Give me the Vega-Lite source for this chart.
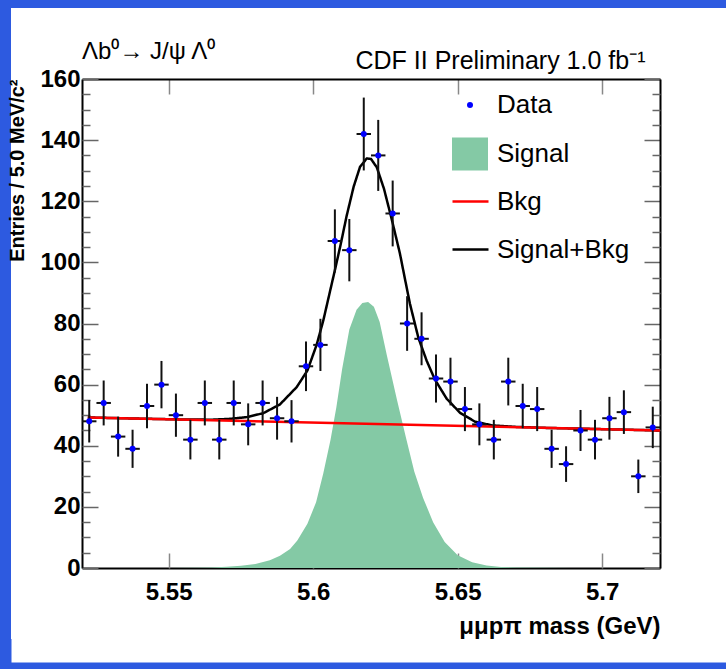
{
  "$schema": "https://vega.github.io/schema/vega-lite/v6.json",
  "width": 578,
  "height": 489,
  "autosize": {"type": "none"},
  "padding": {"left": 82, "top": 79, "right": 66, "bottom": 101},
  "background": "#2d5ae0",
  "config": {
    "view": {"fill": "white", "stroke": "white", "strokeWidth": 142},
    "axis": {"grid": false, "labelFont": "Liberation Sans", "titleFont": "Liberation Sans", "labelColor": "black", "titleColor": "black", "labelFlush": false, "labelOverlap": false, "labelBound": false},
    "legend": {"title": null, "labelFont": "Liberation Sans", "labelFontSize": 26, "labelColor": "black", "padding": 0, "labelLimit": 300, "orient": "none", "symbolOpacity": 1},
    "font": "Liberation Sans"
  },
  "title": {"text": "Λb⁰→ J/ψ Λ⁰", "anchor": "start", "frame": "group", "fontSize": 24, "fontWeight": "normal", "font": "Liberation Sans", "offset": -16, "color": "black"},
  "datasets": {
    "bins": [
      {"m": 5.5225, "n": 48, "lo": 41.07, "hi": 54.93, "xlo": 5.520, "xhi": 5.525},
      {"m": 5.5275, "n": 54, "lo": 46.65, "hi": 61.35, "xlo": 5.525, "xhi": 5.530},
      {"m": 5.5325, "n": 43, "lo": 36.44, "hi": 49.56, "xlo": 5.530, "xhi": 5.535},
      {"m": 5.5375, "n": 39, "lo": 32.76, "hi": 45.24, "xlo": 5.535, "xhi": 5.540},
      {"m": 5.5425, "n": 53, "lo": 45.72, "hi": 60.28, "xlo": 5.540, "xhi": 5.545},
      {"m": 5.5475, "n": 60, "lo": 52.25, "hi": 67.75, "xlo": 5.545, "xhi": 5.550},
      {"m": 5.5525, "n": 50, "lo": 42.93, "hi": 57.07, "xlo": 5.550, "xhi": 5.555},
      {"m": 5.5575, "n": 42, "lo": 35.52, "hi": 48.48, "xlo": 5.555, "xhi": 5.560},
      {"m": 5.5625, "n": 54, "lo": 46.65, "hi": 61.35, "xlo": 5.560, "xhi": 5.565},
      {"m": 5.5675, "n": 42, "lo": 35.52, "hi": 48.48, "xlo": 5.565, "xhi": 5.570},
      {"m": 5.5725, "n": 54, "lo": 46.65, "hi": 61.35, "xlo": 5.570, "xhi": 5.575},
      {"m": 5.5775, "n": 47, "lo": 40.14, "hi": 53.86, "xlo": 5.575, "xhi": 5.580},
      {"m": 5.5825, "n": 54, "lo": 46.65, "hi": 61.35, "xlo": 5.580, "xhi": 5.585},
      {"m": 5.5875, "n": 49, "lo": 42.00, "hi": 56.00, "xlo": 5.585, "xhi": 5.590},
      {"m": 5.5925, "n": 48, "lo": 41.07, "hi": 54.93, "xlo": 5.590, "xhi": 5.595},
      {"m": 5.5975, "n": 66, "lo": 57.88, "hi": 74.12, "xlo": 5.595, "xhi": 5.600},
      {"m": 5.6025, "n": 73, "lo": 64.46, "hi": 81.54, "xlo": 5.600, "xhi": 5.605},
      {"m": 5.6075, "n": 107, "lo": 96.66, "hi": 117.34, "xlo": 5.605, "xhi": 5.610},
      {"m": 5.6125, "n": 104, "lo": 93.80, "hi": 114.20, "xlo": 5.610, "xhi": 5.615},
      {"m": 5.6175, "n": 142, "lo": 130.08, "hi": 153.92, "xlo": 5.615, "xhi": 5.620},
      {"m": 5.6225, "n": 135, "lo": 123.38, "hi": 146.62, "xlo": 5.620, "xhi": 5.625},
      {"m": 5.6275, "n": 116, "lo": 105.23, "hi": 126.77, "xlo": 5.625, "xhi": 5.630},
      {"m": 5.6325, "n": 80, "lo": 71.06, "hi": 88.94, "xlo": 5.630, "xhi": 5.635},
      {"m": 5.6375, "n": 75, "lo": 66.34, "hi": 83.66, "xlo": 5.635, "xhi": 5.640},
      {"m": 5.6425, "n": 62, "lo": 54.13, "hi": 69.87, "xlo": 5.640, "xhi": 5.645},
      {"m": 5.6475, "n": 61, "lo": 53.19, "hi": 68.81, "xlo": 5.645, "xhi": 5.650},
      {"m": 5.6525, "n": 52, "lo": 44.79, "hi": 59.21, "xlo": 5.650, "xhi": 5.655},
      {"m": 5.6575, "n": 47, "lo": 40.14, "hi": 53.86, "xlo": 5.655, "xhi": 5.660},
      {"m": 5.6625, "n": 42, "lo": 35.52, "hi": 48.48, "xlo": 5.660, "xhi": 5.665},
      {"m": 5.6675, "n": 61, "lo": 53.19, "hi": 68.81, "xlo": 5.665, "xhi": 5.670},
      {"m": 5.6725, "n": 53, "lo": 45.72, "hi": 60.28, "xlo": 5.670, "xhi": 5.675},
      {"m": 5.6775, "n": 52, "lo": 44.79, "hi": 59.21, "xlo": 5.675, "xhi": 5.680},
      {"m": 5.6825, "n": 39, "lo": 32.76, "hi": 45.24, "xlo": 5.680, "xhi": 5.685},
      {"m": 5.6875, "n": 34, "lo": 28.17, "hi": 39.83, "xlo": 5.685, "xhi": 5.690},
      {"m": 5.6925, "n": 45, "lo": 38.29, "hi": 51.71, "xlo": 5.690, "xhi": 5.695},
      {"m": 5.6975, "n": 42, "lo": 35.52, "hi": 48.48, "xlo": 5.695, "xhi": 5.700},
      {"m": 5.7025, "n": 49, "lo": 42.00, "hi": 56.00, "xlo": 5.700, "xhi": 5.705},
      {"m": 5.7075, "n": 51, "lo": 43.86, "hi": 58.14, "xlo": 5.705, "xhi": 5.710},
      {"m": 5.7125, "n": 30, "lo": 24.52, "hi": 35.48, "xlo": 5.710, "xhi": 5.715},
      {"m": 5.7175, "n": 46, "lo": 39.22, "hi": 52.78, "xlo": 5.715, "xhi": 5.720}
    ],
    "sig": [
      {"m": 5.550, "s": 0}, {"m": 5.560, "s": 0.1}, {"m": 5.565, "s": 0.2}, {"m": 5.570, "s": 0.4},
      {"m": 5.575, "s": 0.7}, {"m": 5.580, "s": 1.3}, {"m": 5.585, "s": 2.5}, {"m": 5.5885, "s": 4.0},
      {"m": 5.592, "s": 6.2}, {"m": 5.5945, "s": 9.0}, {"m": 5.598, "s": 14.5}, {"m": 5.601, "s": 21.5},
      {"m": 5.6035, "s": 31}, {"m": 5.606, "s": 42}, {"m": 5.608, "s": 52.5}, {"m": 5.610, "s": 65},
      {"m": 5.6125, "s": 78}, {"m": 5.615, "s": 84.5}, {"m": 5.617, "s": 86.7}, {"m": 5.619, "s": 87},
      {"m": 5.621, "s": 85.5}, {"m": 5.623, "s": 80.5}, {"m": 5.6255, "s": 69.5}, {"m": 5.629, "s": 55},
      {"m": 5.632, "s": 43}, {"m": 5.635, "s": 31.5}, {"m": 5.638, "s": 23}, {"m": 5.6415, "s": 15},
      {"m": 5.6455, "s": 8.5}, {"m": 5.650, "s": 4.2}, {"m": 5.655, "s": 1.9}, {"m": 5.660, "s": 0.8},
      {"m": 5.665, "s": 0.35}, {"m": 5.670, "s": 0.15}, {"m": 5.680, "s": 0.05}, {"m": 5.690, "s": 0}
    ],
    "tot": [
      {"m": 5.522, "t": 49.26}, {"m": 5.540, "t": 48.87}, {"m": 5.555, "t": 48.6}, {"m": 5.565, "t": 48.53},
      {"m": 5.5712, "t": 48.8}, {"m": 5.577, "t": 49.37}, {"m": 5.5827, "t": 50.65}, {"m": 5.5885, "t": 53.53},
      {"m": 5.5943, "t": 59.2}, {"m": 5.598, "t": 64.62}, {"m": 5.6012, "t": 73.05}, {"m": 5.6035, "t": 81.0},
      {"m": 5.6058, "t": 90.45}, {"m": 5.6075, "t": 97.42}, {"m": 5.6095, "t": 105.87}, {"m": 5.6116, "t": 115.33},
      {"m": 5.614, "t": 124.78}, {"m": 5.6162, "t": 131.23}, {"m": 5.6185, "t": 133.98}, {"m": 5.620, "t": 133.85},
      {"m": 5.622, "t": 131.11}, {"m": 5.6245, "t": 124.05}, {"m": 5.6272, "t": 113.99}, {"m": 5.630, "t": 102.93},
      {"m": 5.632, "t": 93.39}, {"m": 5.6335, "t": 86.36}, {"m": 5.6364, "t": 75.3}, {"m": 5.6393, "t": 67.73},
      {"m": 5.6421, "t": 61.67}, {"m": 5.6462, "t": 55.38}, {"m": 5.6508, "t": 50.79}, {"m": 5.656, "t": 47.87},
      {"m": 5.662, "t": 46.65}, {"m": 5.670, "t": 46.18}, {"m": 5.680, "t": 45.86}, {"m": 5.720, "t": 45.0}
    ],
    "bkg": [
      {"m": 5.522, "b": 49.26}, {"m": 5.720, "b": 45.0}
    ]
  },
  "resolve": {"axis": {"x": "independent", "y": "independent"}},
  "layer": [
    {
      "data": {"name": "sig"},
      "mark": {"type": "area", "opacity": 1},
      "encoding": {
        "x": {"field": "m", "type": "quantitative", "scale": {"domain": [5.52, 5.72], "nice": false, "zero": false},
          "axis": {"orient": "bottom", "offset": 23, "domain": true, "domainColor": "white", "domainWidth": 142, "domainCap": "square", "ticks": false, "labels": false, "title": null}},
        "y": {"field": "s", "type": "quantitative", "stack": null, "scale": {"domain": [0, 160], "nice": false, "zero": true},
          "axis": {"orient": "left", "values": [0, 20, 40, 60, 80, 100, 120, 140, 160], "format": "d", "ticks": false, "tickSize": 0, "labelPadding": 2, "labelFontSize": 24, "labelFontWeight": "bold", "domain": true, "domainColor": "black", "domainWidth": 2, "title": "Entries / 5.0 MeV/c²", "titleFontSize": 20, "titleFontWeight": "bold", "titleAnchor": "end", "titlePadding": 12}},
        "fill": {"datum": "Signal", "type": "nominal",
          "scale": {"domain": ["Signal"], "range": ["#84c9a5"]},
          "legend": {"legendX": 370, "legendY": 57, "symbolType": "M-1,-0.92H1V0.92H-1Z", "symbolSize": 1296, "symbolStrokeWidth": 0, "symbolFillColor": "#84c9a5", "labelOffset": 9}}
      }
    },
    {
      "data": {"name": "tot"},
      "mark": {"type": "line", "strokeWidth": 2.5, "color": "#000000"},
      "encoding": {
        "x": {"field": "m", "type": "quantitative",
          "axis": {"orient": "bottom", "values": [5.55, 5.6, 5.65, 5.7], "format": ".2~f", "ticks": false, "tickSize": 0, "labelPadding": 12, "labelFontSize": 24, "labelFontWeight": "bold", "domain": true, "domainColor": "black", "domainWidth": 2, "title": "μμpπ mass (GeV)", "titleFontSize": 24, "titleFontWeight": "bold", "titleAnchor": "end", "titlePadding": 10}},
        "y": {"field": "t", "type": "quantitative",
          "axis": {"orient": "left", "values": [0, 20, 40, 60, 80, 100, 120, 140, 160], "labels": false, "domain": false, "ticks": true, "tickSize": -16, "tickColor": "#666666", "tickWidth": 1.5, "title": null}},
        "strokeDash": {"datum": "Signal+Bkg", "type": "nominal",
          "scale": {"domain": ["Signal+Bkg"], "range": [[1, 0]]},
          "legend": {"legendX": 369, "legendY": 151, "symbolType": "stroke", "symbolSize": 1296, "symbolStrokeWidth": 2.5, "symbolStrokeColor": "#000000", "labelOffset": 7}}
      }
    },
    {
      "data": {"name": "bkg"},
      "mark": {"type": "line", "strokeWidth": 2.5},
      "encoding": {
        "x": {"field": "m", "type": "quantitative",
          "axis": {"orient": "bottom", "values": [5.55, 5.6, 5.65, 5.7], "labels": false, "domain": false, "ticks": true, "tickSize": -15, "tickColor": "#888888", "tickWidth": 1.5, "title": null}},
        "y": {"field": "b", "type": "quantitative",
          "axis": {"orient": "left", "values": [5, 10, 15, 25, 30, 35, 45, 50, 55, 65, 70, 75, 85, 90, 95, 105, 110, 115, 125, 130, 135, 145, 150, 155], "labels": false, "domain": false, "ticks": true, "tickSize": -8, "tickColor": "#666666", "tickWidth": 1.5, "title": null}},
        "stroke": {"datum": "Bkg", "type": "nominal",
          "scale": {"domain": ["Bkg"], "range": ["#ff0000"]},
          "legend": {"legendX": 369, "legendY": 103, "symbolType": "stroke", "symbolSize": 1296, "symbolStrokeWidth": 2.5, "labelOffset": 7}}
      }
    },
    {
      "data": {"name": "bins"},
      "mark": {"type": "rule", "color": "#111111", "strokeWidth": 2},
      "encoding": {
        "x": {"field": "m", "type": "quantitative",
          "axis": {"orient": "top", "values": [5.55, 5.6, 5.65, 5.7], "labels": false, "domain": true, "domainColor": "black", "domainWidth": 2, "ticks": true, "tickSize": -15, "tickColor": "#888888", "tickWidth": 1.5, "title": "CDF II Preliminary 1.0 fb⁻¹", "titleFontSize": 25, "titleFontWeight": "normal", "titleAnchor": "end", "titleAlign": "right", "titleX": 563, "titlePadding": 5}},
        "y": {"field": "lo", "type": "quantitative",
          "axis": {"orient": "right", "values": [0, 20, 40, 60, 80, 100, 120, 140, 160], "labels": false, "domain": true, "domainColor": "black", "domainWidth": 2, "ticks": true, "tickSize": -16, "tickColor": "#666666", "tickWidth": 1.5, "title": null}},
        "y2": {"field": "hi"}
      }
    },
    {
      "data": {"name": "bins"},
      "mark": {"type": "rule", "color": "#111111", "strokeWidth": 2},
      "encoding": {
        "x": {"field": "xlo", "type": "quantitative", "axis": null},
        "x2": {"field": "xhi"},
        "y": {"field": "n", "type": "quantitative",
          "axis": {"orient": "right", "values": [5, 10, 15, 25, 30, 35, 45, 50, 55, 65, 70, 75, 85, 90, 95, 105, 110, 115, 125, 130, 135, 145, 150, 155], "labels": false, "domain": false, "ticks": true, "tickSize": -8, "tickColor": "#666666", "tickWidth": 1.5, "title": null}}
      }
    },
    {
      "data": {"name": "bins"},
      "mark": {"type": "point", "filled": true, "size": 36, "opacity": 1, "color": "#0000ff"},
      "encoding": {
        "x": {"field": "m", "type": "quantitative", "axis": null},
        "y": {"field": "n", "type": "quantitative", "axis": null},
        "shape": {"datum": "Data", "type": "nominal",
          "scale": {"domain": ["Data"], "range": ["circle"]},
          "legend": {"legendX": 375, "legendY": 13, "symbolType": "circle", "symbolSize": 36, "symbolStrokeWidth": 0, "symbolFillColor": "#0000ff", "labelOffset": 14}}
      }
    }
  ]
}
